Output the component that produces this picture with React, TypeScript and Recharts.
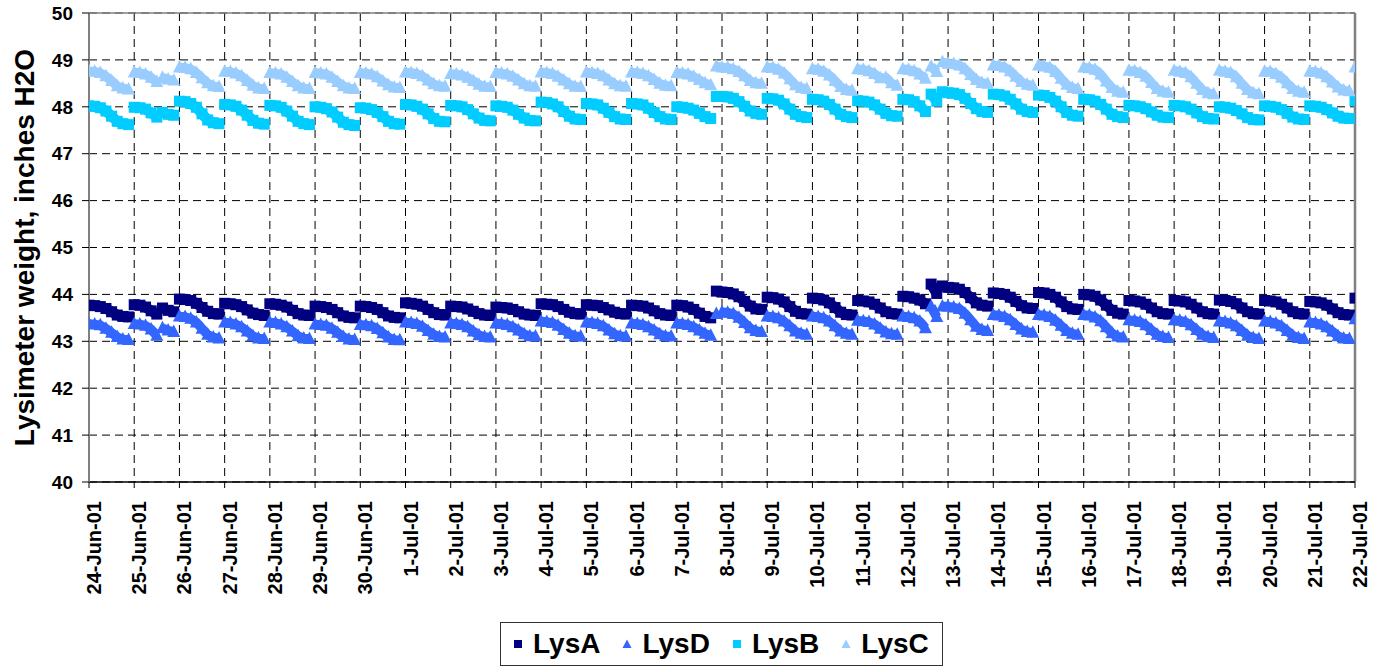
import React from 'react';
import { LineChart, Line, XAxis, YAxis, CartesianGrid, ReferenceLine, Legend } from 'recharts';

const FONT = '"Liberation Sans", Arial, Helvetica, sans-serif';

const DATE_LABELS = [
  '24-Jun-01', '25-Jun-01', '26-Jun-01', '27-Jun-01', '28-Jun-01', '29-Jun-01', '30-Jun-01',
  '1-Jul-01', '2-Jul-01', '3-Jul-01', '4-Jul-01', '5-Jul-01', '6-Jul-01', '7-Jul-01',
  '8-Jul-01', '9-Jul-01', '10-Jul-01', '11-Jul-01', '12-Jul-01', '13-Jul-01', '14-Jul-01',
  '15-Jul-01', '16-Jul-01', '17-Jul-01', '18-Jul-01', '19-Jul-01', '20-Jul-01', '21-Jul-01',
  '22-Jul-01',
];
const X_TICKS = DATE_LABELS.map((_, i) => i);
const Y_TICKS = [40, 41, 42, 43, 44, 45, 46, 47, 48, 49, 50];

// readings every 3 hours (0h .. 21h), one row per day
const HOURS = [0, 3, 6, 9, 12, 15, 18, 21];

const LYS_A = [
  [43.77, 43.76, 43.74, 43.70, 43.63, 43.56, 43.53, 43.52],
  [43.78, 43.77, 43.73, 43.65, 43.58, 43.71, 43.66, 43.63],
  [43.90, 43.89, 43.87, 43.81, 43.72, 43.64, 43.59, 43.58],
  [43.81, 43.80, 43.78, 43.74, 43.67, 43.60, 43.57, 43.55],
  [43.80, 43.79, 43.77, 43.73, 43.66, 43.59, 43.56, 43.55],
  [43.75, 43.74, 43.72, 43.68, 43.61, 43.54, 43.51, 43.50],
  [43.75, 43.74, 43.72, 43.68, 43.61, 43.54, 43.51, 43.50],
  [43.82, 43.81, 43.79, 43.75, 43.68, 43.61, 43.57, 43.56],
  [43.75, 43.74, 43.73, 43.69, 43.64, 43.59, 43.56, 43.55],
  [43.73, 43.72, 43.71, 43.68, 43.63, 43.58, 43.56, 43.55],
  [43.80, 43.79, 43.78, 43.74, 43.68, 43.62, 43.59, 43.58],
  [43.78, 43.77, 43.76, 43.72, 43.67, 43.62, 43.59, 43.58],
  [43.77, 43.76, 43.75, 43.71, 43.65, 43.59, 43.56, 43.55],
  [43.77, 43.76, 43.73, 43.68, 43.60, 43.53, 43.50, 44.07],
  [44.05, 44.04, 44.01, 43.95, 43.85, 43.75, 43.69, 43.68],
  [43.94, 43.93, 43.90, 43.84, 43.74, 43.64, 43.59, 43.58],
  [43.92, 43.91, 43.88, 43.82, 43.72, 43.62, 43.57, 43.56],
  [43.87, 43.86, 43.84, 43.79, 43.71, 43.63, 43.59, 43.58],
  [43.96, 43.95, 43.92, 43.88, 43.80, 44.22, 44.02, 44.18],
  [44.15, 44.14, 44.11, 44.04, 43.93, 43.82, 43.77, 43.75],
  [44.03, 44.02, 44.00, 43.94, 43.85, 43.76, 43.71, 43.70],
  [44.04, 44.03, 44.00, 43.94, 43.84, 43.74, 43.69, 43.68],
  [44.00, 43.99, 43.96, 43.88, 43.77, 43.66, 43.60, 43.58],
  [43.87, 43.86, 43.84, 43.79, 43.71, 43.63, 43.59, 43.58],
  [43.87, 43.86, 43.84, 43.79, 43.71, 43.63, 43.59, 43.58],
  [43.88, 43.87, 43.85, 43.80, 43.71, 43.63, 43.59, 43.58],
  [43.87, 43.86, 43.84, 43.79, 43.71, 43.63, 43.59, 43.58],
  [43.85, 43.84, 43.82, 43.77, 43.69, 43.61, 43.57, 43.56],
];
const LYS_A_LAST = 43.92;

const LYS_D = [
  [43.37, 43.36, 43.34, 43.27, 43.18, 43.09, 43.04, 43.03],
  [43.37, 43.36, 43.33, 43.25, 43.12, 43.28, 43.23, 43.20],
  [43.53, 43.52, 43.48, 43.40, 43.27, 43.14, 43.08, 43.06],
  [43.40, 43.39, 43.36, 43.30, 43.21, 43.11, 43.06, 43.05],
  [43.40, 43.39, 43.36, 43.30, 43.21, 43.11, 43.06, 43.05],
  [43.36, 43.35, 43.33, 43.27, 43.18, 43.09, 43.04, 43.03],
  [43.35, 43.34, 43.32, 43.26, 43.17, 43.08, 43.03, 43.02],
  [43.40, 43.39, 43.37, 43.31, 43.22, 43.14, 43.09, 43.08],
  [43.38, 43.37, 43.35, 43.30, 43.21, 43.13, 43.09, 43.08],
  [43.38, 43.37, 43.35, 43.30, 43.23, 43.15, 43.11, 43.10],
  [43.42, 43.41, 43.39, 43.33, 43.24, 43.16, 43.11, 43.10],
  [43.40, 43.39, 43.37, 43.32, 43.23, 43.15, 43.11, 43.10],
  [43.38, 43.37, 43.35, 43.30, 43.23, 43.15, 43.11, 43.10],
  [43.38, 43.37, 43.35, 43.30, 43.23, 43.16, 43.12, 43.58],
  [43.62, 43.61, 43.58, 43.50, 43.39, 43.28, 43.22, 43.20],
  [43.53, 43.52, 43.49, 43.42, 43.32, 43.21, 43.16, 43.14],
  [43.53, 43.52, 43.49, 43.42, 43.32, 43.21, 43.16, 43.14],
  [43.44, 43.43, 43.41, 43.36, 43.27, 43.19, 43.15, 43.14],
  [43.53, 43.52, 43.49, 43.42, 43.28, 43.74, 43.52, 43.74],
  [43.74, 43.72, 43.69, 43.59, 43.45, 43.31, 43.24, 43.22],
  [43.56, 43.55, 43.52, 43.45, 43.35, 43.25, 43.20, 43.18],
  [43.56, 43.55, 43.52, 43.44, 43.33, 43.22, 43.16, 43.14],
  [43.56, 43.55, 43.51, 43.43, 43.30, 43.17, 43.10, 43.08],
  [43.45, 43.44, 43.41, 43.34, 43.24, 43.14, 43.09, 43.07],
  [43.45, 43.44, 43.41, 43.34, 43.24, 43.14, 43.09, 43.07],
  [43.42, 43.41, 43.38, 43.32, 43.22, 43.12, 43.07, 43.05],
  [43.42, 43.41, 43.38, 43.32, 43.22, 43.12, 43.07, 43.05],
  [43.40, 43.39, 43.36, 43.30, 43.21, 43.11, 43.06, 43.05],
];
const LYS_D_LAST = 43.47;

const LYS_B = [
  [48.02, 48.01, 47.98, 47.91, 47.80, 47.69, 47.64, 47.62],
  [47.99, 47.98, 47.95, 47.87, 47.78, 47.88, 47.84, 47.82],
  [48.12, 48.11, 48.07, 47.99, 47.85, 47.72, 47.66, 47.64],
  [48.05, 48.04, 48.01, 47.93, 47.82, 47.71, 47.65, 47.63],
  [48.03, 48.02, 47.99, 47.91, 47.80, 47.69, 47.64, 47.62],
  [48.00, 47.99, 47.96, 47.89, 47.78, 47.67, 47.62, 47.60],
  [47.98, 47.97, 47.94, 47.88, 47.79, 47.69, 47.64, 47.63],
  [48.05, 48.04, 48.01, 47.95, 47.85, 47.75, 47.69, 47.68],
  [48.03, 48.02, 48.00, 47.94, 47.85, 47.76, 47.71, 47.70],
  [48.02, 48.01, 47.99, 47.93, 47.84, 47.76, 47.71, 47.70],
  [48.10, 48.09, 48.06, 48.00, 47.90, 47.80, 47.74, 47.73],
  [48.07, 48.06, 48.04, 47.97, 47.88, 47.79, 47.74, 47.73],
  [48.07, 48.06, 48.04, 47.97, 47.88, 47.79, 47.74, 47.73],
  [48.00, 47.99, 47.97, 47.93, 47.86, 47.79, 47.75, 48.22],
  [48.22, 48.21, 48.18, 48.11, 48.01, 47.91, 47.86, 47.84],
  [48.18, 48.17, 48.14, 48.06, 47.95, 47.84, 47.79, 47.77],
  [48.16, 48.15, 48.12, 48.05, 47.95, 47.84, 47.79, 47.77],
  [48.13, 48.12, 48.10, 48.04, 47.95, 47.86, 47.81, 47.80],
  [48.16, 48.15, 48.11, 48.02, 47.90, 48.27, 48.12, 48.32],
  [48.30, 48.29, 48.26, 48.18, 48.07, 47.96, 47.90, 47.88],
  [48.27, 48.26, 48.23, 48.16, 48.06, 47.95, 47.90, 47.88],
  [48.25, 48.24, 48.20, 48.12, 48.00, 47.88, 47.82, 47.80],
  [48.16, 48.15, 48.12, 48.05, 47.95, 47.84, 47.79, 47.77],
  [48.03, 48.02, 48.00, 47.96, 47.89, 47.82, 47.78, 47.77],
  [48.03, 48.02, 48.00, 47.95, 47.87, 47.79, 47.75, 47.74],
  [48.00, 47.99, 47.97, 47.92, 47.85, 47.77, 47.73, 47.72],
  [48.02, 48.01, 47.99, 47.94, 47.86, 47.78, 47.74, 47.73],
  [48.02, 48.01, 47.99, 47.94, 47.87, 47.80, 47.76, 47.75],
];
const LYS_B_LAST = 48.13;

const LYS_C = [
  [48.76, 48.75, 48.72, 48.65, 48.55, 48.44, 48.39, 48.37],
  [48.73, 48.72, 48.69, 48.62, 48.53, 48.62, 48.58, 48.56],
  [48.84, 48.83, 48.80, 48.72, 48.61, 48.50, 48.44, 48.42],
  [48.75, 48.74, 48.71, 48.65, 48.55, 48.45, 48.39, 48.38],
  [48.72, 48.71, 48.69, 48.62, 48.53, 48.44, 48.39, 48.38],
  [48.72, 48.71, 48.69, 48.62, 48.53, 48.44, 48.39, 48.38],
  [48.72, 48.71, 48.69, 48.63, 48.54, 48.46, 48.41, 48.40],
  [48.73, 48.72, 48.70, 48.65, 48.56, 48.48, 48.44, 48.43],
  [48.70, 48.69, 48.67, 48.62, 48.55, 48.47, 48.43, 48.42],
  [48.72, 48.71, 48.69, 48.64, 48.56, 48.48, 48.44, 48.43],
  [48.73, 48.72, 48.70, 48.64, 48.56, 48.48, 48.43, 48.42],
  [48.73, 48.72, 48.70, 48.65, 48.56, 48.48, 48.44, 48.43],
  [48.73, 48.72, 48.70, 48.65, 48.57, 48.49, 48.45, 48.44],
  [48.72, 48.71, 48.69, 48.64, 48.57, 48.50, 48.46, 48.86],
  [48.84, 48.83, 48.80, 48.74, 48.65, 48.55, 48.50, 48.49],
  [48.84, 48.83, 48.79, 48.71, 48.59, 48.46, 48.40, 48.38],
  [48.80, 48.79, 48.75, 48.67, 48.55, 48.42, 48.36, 48.34],
  [48.80, 48.79, 48.76, 48.70, 48.61, 48.62, 48.50, 48.45],
  [48.80, 48.79, 48.76, 48.69, 48.60, 48.86, 48.74, 48.95],
  [48.92, 48.91, 48.88, 48.80, 48.68, 48.57, 48.51, 48.49],
  [48.88, 48.87, 48.84, 48.76, 48.64, 48.53, 48.47, 48.45],
  [48.88, 48.86, 48.83, 48.74, 48.60, 48.47, 48.40, 48.38],
  [48.84, 48.82, 48.79, 48.69, 48.54, 48.40, 48.32, 48.30],
  [48.77, 48.76, 48.72, 48.64, 48.51, 48.38, 48.32, 48.30],
  [48.77, 48.75, 48.72, 48.63, 48.49, 48.36, 48.29, 48.27],
  [48.77, 48.75, 48.72, 48.63, 48.49, 48.36, 48.29, 48.27],
  [48.75, 48.74, 48.70, 48.62, 48.50, 48.38, 48.32, 48.30],
  [48.75, 48.74, 48.71, 48.63, 48.52, 48.41, 48.35, 48.33],
];
const LYS_C_LAST = 48.84;

type Pt = { t: number; v: number | null };

// flatten rows into time points; a null goes in front of every upward jump
// so the band breaks there, as the lysimeter record does
const toPoints = (rows: number[][], last: number): Pt[] => {
  const raw: Pt[] = rows.flatMap((row, day) => row.map((v, i) => ({ t: day + HOURS[i] / 24, v })));
  raw.push({ t: rows.length, v: last });
  const out: Pt[] = [];
  raw.forEach((p, i) => {
    if (i > 0 && (p.v as number) - (raw[i - 1].v as number) > 0.03) out.push({ t: p.t, v: null });
    out.push(p);
  });
  return out;
};

type Marker = 'square' | 'triangle';

const SERIES: { name: string; color: string; marker: Marker; data: Pt[] }[] = [
  { name: 'LysA', color: '#000080', marker: 'square', data: toPoints(LYS_A, LYS_A_LAST) },
  { name: 'LysD', color: '#3366FF', marker: 'triangle', data: toPoints(LYS_D, LYS_D_LAST) },
  { name: 'LysB', color: '#00CCFF', marker: 'square', data: toPoints(LYS_B, LYS_B_LAST) },
  { name: 'LysC', color: '#99CCFF', marker: 'triangle', data: toPoints(LYS_C, LYS_C_LAST) },
];

const makeDot = (marker: Marker, color: string) => (props: any) => {
  const { cx, cy, index, value } = props;
  const key = `dot-${index}`;
  if (cx == null || cy == null || value == null || Number.isNaN(cy)) return <g key={key} />;
  if (marker === 'square') {
    return <rect key={key} x={cx - 5.5} y={cy - 5.5} width={11} height={11} fill={color} />;
  }
  return (
    <polygon
      key={key}
      points={`${cx},${cy - 7.5} ${cx + 6.5},${cy + 5} ${cx - 6.5},${cy + 5}`}
      fill={color}
    />
  );
};

const DateTick = (props: any) => {
  const { x, y, payload } = props;
  return (
    <g transform={`translate(${x + 5}, ${y}) rotate(-90)`}>
      <text
        x={0}
        y={0}
        textAnchor="end"
        dominantBaseline="central"
        fontFamily={FONT}
        fontWeight="bold"
        fontSize={20}
        fill="#000"
      >
        {DATE_LABELS[payload.value]}
      </text>
    </g>
  );
};

const AxisTitle = (props: any) => {
  const vb = props.viewBox || { x: 0, y: 13, width: 89, height: 469 };
  const cx = 24;
  const cy = vb.y + vb.height / 2;
  return (
    <text
      x={cx}
      y={cy}
      transform={`rotate(-90, ${cx}, ${cy})`}
      textAnchor="middle"
      dominantBaseline="central"
      fontFamily={FONT}
      fontWeight="bold"
      fontSize={28}
      fill="#000"
    >
      Lysimeter weight, inches H2O
    </text>
  );
};

const LegendBox = () => (
  <div
    style={{
      boxSizing: 'border-box',
      width: 443,
      height: 44,
      border: '1.5px solid #333',
      background: '#fff',
      display: 'flex',
      alignItems: 'center',
      paddingLeft: 12,
      fontFamily: FONT,
      fontWeight: 'bold',
      fontSize: 28,
      color: '#000',
    }}
  >
    {SERIES.map((s) => (
      <div key={s.name} style={{ display: 'flex', alignItems: 'center', marginRight: 22 }}>
        <svg width={10} height={10} style={{ marginRight: 10 }}>
          {s.marker === 'square' ? (
            <rect x={1} y={1} width={8} height={8} fill={s.color} />
          ) : (
            <polygon points="5,0.5 9.5,9 0.5,9" fill={s.color} />
          )}
        </svg>
        <span style={{ lineHeight: '30px' }}>{s.name}</span>
      </div>
    ))}
  </div>
);

export default function App() {
  return (
    <div style={{ width: 1379, height: 670, background: '#fff' }}>
      <style>{'body{margin:0;}'}</style>
      <LineChart width={1379} height={670} margin={{ top: 13, right: 24, bottom: 4, left: 0 }}>
        <CartesianGrid stroke="#000" strokeDasharray="8 5" strokeWidth={1} />
        <XAxis
          type="number"
          dataKey="t"
          domain={[0, 28]}
          ticks={X_TICKS}
          interval={0}
          allowDataOverflow
          height={140}
          tick={<DateTick />}
          tickSize={6}
          tickMargin={13}
          axisLine={{ stroke: '#000', strokeWidth: 1.5 }}
          tickLine={{ stroke: '#000' }}
        />
        <YAxis
          type="number"
          domain={[40, 50]}
          ticks={Y_TICKS}
          interval={0}
          allowDataOverflow
          width={89}
          tickSize={7}
          tickMargin={9}
          tick={{ fontFamily: FONT, fontWeight: 'bold', fontSize: 19, fill: '#000' }}
          axisLine={{ stroke: '#808080', strokeWidth: 2 }}
          tickLine={{ stroke: '#000' }}
          label={<AxisTitle />}
        />
        <ReferenceLine y={50} stroke="#808080" strokeWidth={1.5} />
        <ReferenceLine x={28} stroke="#808080" strokeWidth={2.5} />
        {SERIES.map((s) => (
          <Line
            key={s.name}
            name={s.name}
            data={s.data}
            dataKey="v"
            type="linear"
            stroke={s.color}
            strokeWidth={s.marker === 'square' ? 10.5 : 9.5}
            strokeLinejoin="round"
            connectNulls={false}
            dot={makeDot(s.marker, s.color)}
            activeDot={false}
            isAnimationActive={false}
          />
        ))}
        <Legend
          verticalAlign="bottom"
          content={<LegendBox />}
          wrapperStyle={{ left: 500, bottom: 4, width: 443 }}
        />
      </LineChart>
    </div>
  );
}
